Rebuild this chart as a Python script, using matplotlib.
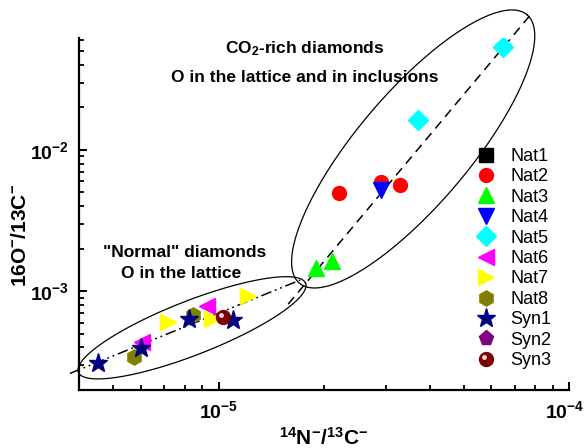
import numpy as np
import matplotlib
matplotlib.use("Agg")
import matplotlib.pyplot as plt
from matplotlib.transforms import ScaledTranslation
from matplotlib.legend_handler import HandlerBase
from matplotlib.lines import Line2D

plt.rcParams['font.family'] = ['Liberation Sans', 'DejaVu Sans']
plt.rcParams['mathtext.fontset'] = 'custom'
plt.rcParams['mathtext.rm'] = 'Liberation Sans:bold'
plt.rcParams['mathtext.it'] = 'Liberation Sans:bold'
plt.rcParams['mathtext.bf'] = 'Liberation Sans:bold'

# --- data (14N-/13C- , 16O-/13C-) ---
nat1_x, nat1_y = [], []
nat2_x = [2.20e-5, 2.91e-5, 3.30e-5]
nat2_y = [4.96e-3, 5.93e-3, 5.65e-3]
nat3_x = [1.90e-5, 2.10e-5]
nat3_y = [1.46e-3, 1.63e-3]
nat4_x = [2.91e-5]
nat4_y = [5.20e-3]
nat5_x = [3.71e-5, 6.49e-5]
nat5_y = [1.63e-2, 5.37e-2]
nat6_x = [6.07e-6, 9.30e-6]
nat6_y = [4.35e-4, 7.83e-4]
nat7_x = [7.20e-6, 9.55e-6, 1.21e-5]
nat7_y = [6.03e-4, 6.33e-4, 9.22e-4]
nat8_x = [5.73e-6, 8.43e-6]
nat8_y = [3.40e-4, 6.76e-4]
syn1_x = [4.52e-6, 6.00e-6, 8.26e-6, 1.10e-5]
syn1_y = [3.08e-4, 3.94e-4, 6.33e-4, 6.23e-4]
syn2_x, syn2_y = [], []
syn3_x = [1.03e-5]
syn3_y = [6.54e-4]

# trend lines (end points)
normal_x = [3.77e-6, 1.71e-5]
normal_y = [2.62e-4, 1.20e-3]
co2_x = [1.58e-5, 7.8e-5]
co2_y = [8.1e-4, 9.2e-2]

series = [
    ("Nat1", nat1_x, nat1_y, "s", "#000000", 10),
    ("Nat2", nat2_x, nat2_y, "o", "#ff0000", 10),
    ("Nat3", nat3_x, nat3_y, "^", "#00ff00", 11),
    ("Nat4", nat4_x, nat4_y, "v", "#0000ff", 11),
    ("Nat5", nat5_x, nat5_y, "D", "#00ffff", 10),
    ("Nat6", nat6_x, nat6_y, "<", "#ff00ff", 11),
    ("Nat7", nat7_x, nat7_y, ">", "#ffff00", 11),
    ("Nat8", nat8_x, nat8_y, "h", "#808000", 11),
    ("Syn1", syn1_x, syn1_y, "*", "#000080", 14),
    ("Syn2", syn2_x, syn2_y, "p", "#800080", 11),
]


class SphereHandler(HandlerBase):
    # dark red ball with a small light spot, used for Syn3 in the legend
    def create_artists(self, legend, orig, xdescent, ydescent, width, height,
                       fontsize, trans):
        cx = width / 2 - xdescent
        cy = height / 2 - ydescent
        ball = Line2D([cx], [cy], ls="none", marker="o", ms=10,
                      color="#7a0000", mec="#7a0000", transform=trans)
        spot = Line2D([cx - 1.6], [cy + 1.6], ls="none", marker="o", ms=3.5,
                      color="#f4d8d8", mec="none", transform=trans)
        return [ball, spot]


fig = plt.figure(figsize=(5.85, 4.48), dpi=100)
ax = fig.add_axes([0.135, 0.1295, 0.838, 0.7857])
ax.set_xscale("log")
ax.set_yscale("log")
ax.set_xlim(4e-6, 1e-4)
ax.set_ylim(2e-4, 0.062)

ax.plot(normal_x, normal_y, color="black", lw=1.1,
        linestyle=(0, (7, 2.5, 1.2, 2.5, 1.2, 2.5)), clip_on=False, zorder=1)
ax.plot(co2_x, co2_y, color="black", lw=1.1, linestyle=(0, (6, 4)),
        clip_on=False, zorder=1)


# ellipses drawn around the groups (centre in data, axes in pixels)
def draw_ellipse(cx, cy, a, b, angle):
    t = np.linspace(0, 2 * np.pi, 300)
    th = np.deg2rad(angle)
    u = a * np.cos(t)
    v = b * np.sin(t)
    px0, py0 = ax.transData.transform((cx, cy))
    px = px0 + u * np.cos(th) - v * np.sin(th)
    py = py0 + u * np.sin(th) + v * np.cos(th)
    pts = ax.transData.inverted().transform(np.column_stack([px, py]))
    ax.plot(pts[:, 0], pts[:, 1], color="black", lw=0.9, clip_on=False, zorder=1)


draw_ellipse(8.40e-6, 5.51e-4, 122, 27, 21.4)
draw_ellipse(3.59e-5, 1.016e-2, 176, 56, 49.7)

handles = []
for name, xs, ys, mk, col, ms in series:
    ln, = ax.plot(xs, ys, linestyle="none", marker=mk, color=col, mec=col,
                  ms=ms, label=name, zorder=3)
    handles.append(ln)

# Syn3: shaded sphere
base, = ax.plot(syn3_x, syn3_y, linestyle="none", marker="o", color="#7a0000",
                mec="#7a0000", ms=10, zorder=3)
off = ScaledTranslation(-1.8 / 72, 1.8 / 72, fig.dpi_scale_trans)
ax.plot(syn3_x, syn3_y, linestyle="none", marker="o", color="#f4d8d8",
        mec="none", ms=3.5, zorder=4, transform=ax.transData + off)
handles.append(base)

labels = [s[0] for s in series] + ["Syn3"]
ax.legend(handles, labels, handler_map={base: SphereHandler()},
          loc="upper left", bbox_to_anchor=(0.808, 0.670),
          bbox_transform=fig.transFigure, frameon=False, fontsize=13,
          borderpad=0, borderaxespad=0, handlelength=1.5, handletextpad=0.6,
          labelspacing=0.19)

ax.spines["top"].set_visible(False)
ax.spines["right"].set_visible(False)
for s in ("left", "bottom"):
    ax.spines[s].set_linewidth(1.6)

ax.set_xticks([1e-5, 1e-4])
ax.set_xticklabels([r"$10^{-5}$", r"$10^{-4}$"])
ax.set_yticks([1e-3, 1e-2])
ax.set_yticklabels([r"$10^{-3}$", r"$10^{-2}$"])
ax.tick_params(which="major", direction="in", length=6, width=1.5,
               labelsize=14, pad=7)
ax.tick_params(which="minor", direction="in", length=3.5, width=1.3)
ax.yaxis.set_minor_formatter(plt.NullFormatter())
ax.xaxis.set_minor_formatter(plt.NullFormatter())
# keep the last x label inside the picture
lab = ax.get_xticklabels()[-1]
lab.set_transform(lab.get_transform() +
                  ScaledTranslation(-5 / 100, 0, fig.dpi_scale_trans))

ax.text(0.461, 0.969, r"CO$_{2}$-rich diamonds", transform=ax.transAxes,
        ha="center", va="center", fontsize=12.5, fontweight="bold")
ax.text(0.461, 0.889, "O in the lattice and in inclusions", transform=ax.transAxes,
        ha="center", va="center", fontsize=12.5, fontweight="bold")
ax.text(0.216, 0.392, '"Normal" diamonds', transform=ax.transAxes,
        ha="center", va="center", fontsize=12.5, fontweight="bold")
ax.text(0.208, 0.332, "O in the lattice", transform=ax.transAxes,
        ha="center", va="center", fontsize=12.5, fontweight="bold")

fig.text(324 / 585, 1 - 438 / 448, r"$^{14}$N$^{-}$/$^{13}$C$^{-}$",
         ha="center", va="center", fontsize=15, fontweight="bold")
fig.text(21 / 585, 1 - 236 / 448, r"16O$^{-}$/13C$^{-}$", rotation=90,
         ha="center", va="center", fontsize=15, fontweight="bold")

fig.savefig("out.png", dpi=100)
